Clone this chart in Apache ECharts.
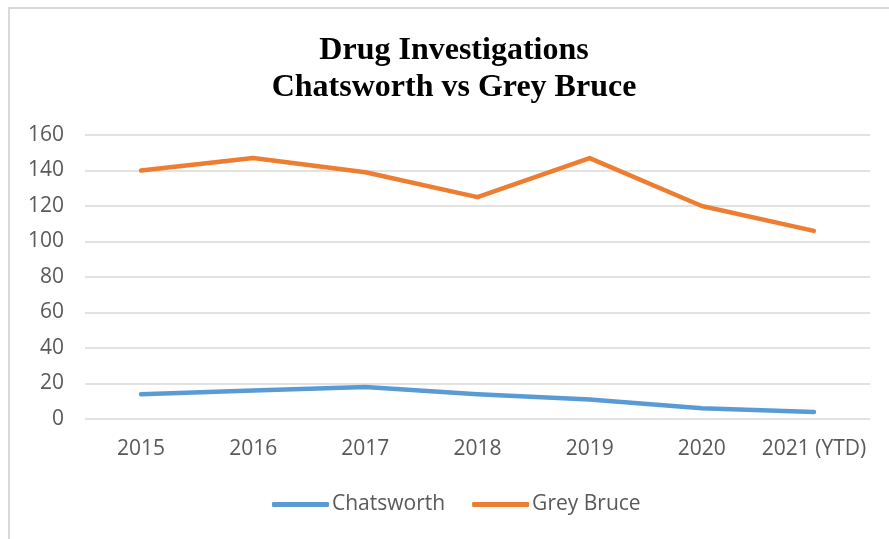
<!DOCTYPE html>
<html>
<head>
<meta charset="utf-8">
<script src="https://cdn.jsdelivr.net/npm/echarts@6/dist/echarts.min.js"></script>
<style>
  html, body { margin: 0; padding: 0; background: #fff; }
  #chart { width: 889px; height: 539px; }
</style>
</head>
<body>
<div id="chart"></div>
<script>
// years on the x axis
const years = ['2015', '2016', '2017', '2018', '2019', '2020', '2021 (YTD)']
// drug investigations per year
const chatsworth = [14, 16, 18, 14, 11, 6, 4]
const greyBruce = [140, 147, 139, 125, 147, 120, 106]

const chart = echarts.init(document.getElementById('chart'))

const labelColor = '#595959'
const sansFont = '"Open Sans", "Liberation Sans", sans-serif'

chart.setOption({
  animation: false,
  backgroundColor: '#fff',
  // light frame round the chart, only left and top show in the picture
  graphic: [
    {
      type: 'rect',
      shape: { x: 9, y: 8, width: 900, height: 560 },
      style: { fill: 'none', stroke: '#d9d9d9', lineWidth: 2 },
      silent: true
    }
  ],
  title: {
    text: 'Drug Investigations\nChatsworth vs Grey Bruce',
    left: 449,
    textAlign: 'center',
    top: 27,
    textStyle: {
      fontFamily: '"Liberation Serif", "Times New Roman", serif',
      fontWeight: 'bold',
      fontSize: 32,
      lineHeight: 37,
      color: '#000'
    }
  },
  legend: {
    bottom: 19,
    left: 267,
    itemWidth: 57,
    itemHeight: 5,
    itemGap: 27,
    icon: 'roundRect',
    textStyle: {
      color: labelColor,
      fontFamily: sansFont,
      fontSize: 21,
      padding: [0, 0, 0, -2]
    },
    data: ['Chatsworth', 'Grey Bruce']
  },
  grid: {
    left: 85,
    right: 19,
    top: 135,
    bottom: 120,
    containLabel: false
  },
  xAxis: {
    type: 'category',
    data: years,
    boundaryGap: true,
    axisLine: { show: false },
    axisTick: { show: false },
    axisLabel: {
      color: labelColor,
      fontFamily: sansFont,
      fontSize: 21,
      margin: 20,
      interval: 0
    }
  },
  yAxis: {
    type: 'value',
    min: 0,
    max: 160,
    interval: 20,
    axisLine: { show: false },
    axisTick: { show: false },
    axisLabel: {
      color: labelColor,
      fontFamily: sansFont,
      fontSize: 21,
      margin: 21
    },
    splitLine: { lineStyle: { color: '#d9d9d9', width: 1.5 } }
  },
  series: [
    {
      name: 'Chatsworth',
      type: 'line',
      data: chatsworth,
      showSymbol: false,
      symbol: 'none',
      itemStyle: { color: '#5b9bd5' },
      lineStyle: { color: '#5b9bd5', width: 4.5, cap: 'round', join: 'round' }
    },
    {
      name: 'Grey Bruce',
      type: 'line',
      data: greyBruce,
      showSymbol: false,
      symbol: 'none',
      itemStyle: { color: '#ed7d31' },
      lineStyle: { color: '#ed7d31', width: 4.5, cap: 'round', join: 'round' }
    }
  ]
})

window.addEventListener('resize', () => chart.resize())
</script>
</body>
</html>
